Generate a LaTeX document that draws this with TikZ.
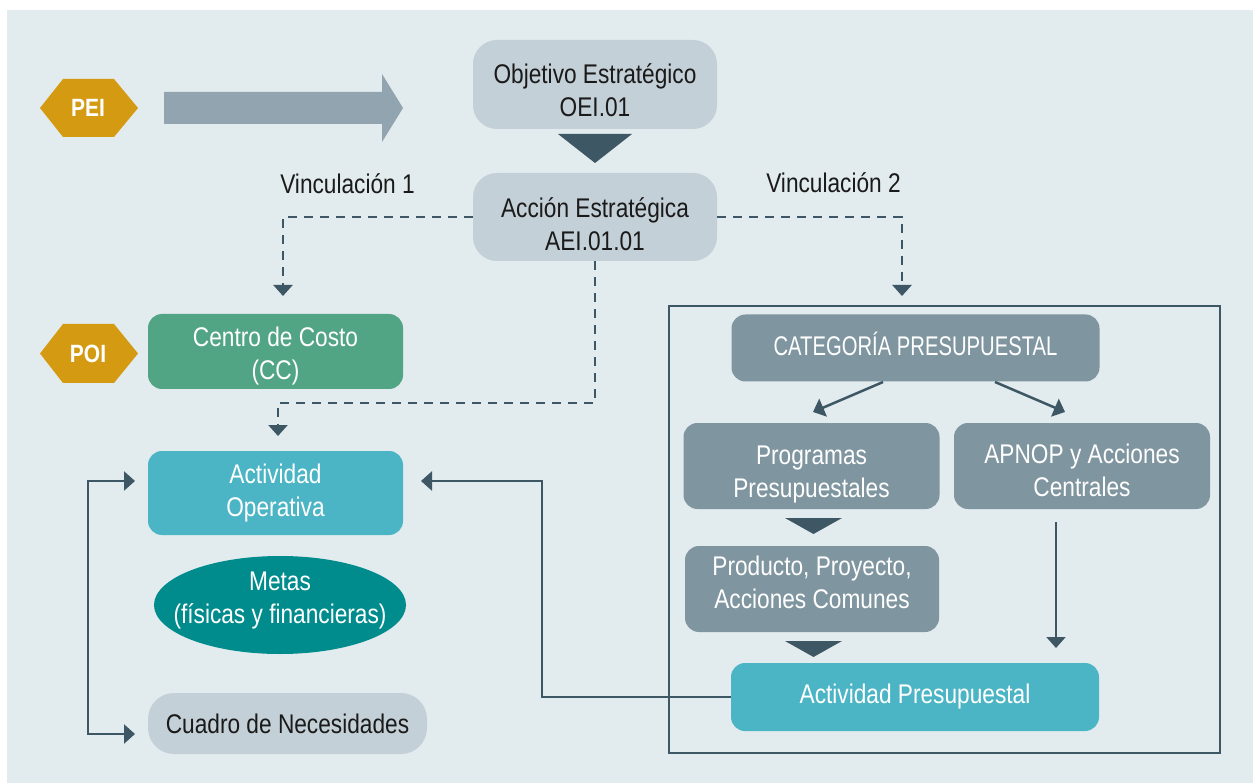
\documentclass[tikz,border=0pt]{standalone}
\usepackage{fontspec}
\setmainfont{Liberation Sans}[FakeStretch=0.84]
\newfontfamily\capsfont{Liberation Sans}[FakeStretch=0.75]
\usetikzlibrary{arrows.meta,shapes.geometric}
\definecolor{panel}{HTML}{E2EBED}
\definecolor{lightbox}{HTML}{C4D0D7}
\definecolor{greybox}{HTML}{7F959F}
\definecolor{tealbox}{HTML}{4BB5C5}
\definecolor{greenbox}{HTML}{52A584}
\definecolor{metasc}{HTML}{008B8C}
\definecolor{gold}{HTML}{D39A12}
\definecolor{dark}{HTML}{3E5764}
\definecolor{bigarrow}{HTML}{91A4AF}
\definecolor{txt}{HTML}{1A1A1A}
% shift the text of a box down by #1 without changing the box size
\newcommand{\shtext}[2]{\raisebox{-#1}[\height][\depth]{\begin{tabular}{@{}c@{}}#2\end{tabular}}}
\begin{document}
\begin{tikzpicture}[x=1pt,y=-1pt,
  every node/.style={font=\fontsize{27}{33}\selectfont, align=center, inner sep=0pt},
  lbox/.style={rectangle, fill=lightbox, text=txt, rounded corners=24pt},
  gbox/.style={rectangle, fill=greybox, text=white, rounded corners=14pt},
  tbox/.style={rectangle, fill=tealbox, text=white, rounded corners=14pt},
  cbox/.style={rectangle, fill=greenbox, text=white, rounded corners=14pt},
  hexlabel/.style={text=white, font=\fontsize{25}{30}\selectfont\bfseries},
  conn/.style={draw=dark, line width=2.5pt},
  dconn/.style={conn, dash pattern=on 9pt off 7pt},
  arr/.style={-{Triangle[width=19pt,length=11pt]}},
  tri/.style={fill=dark}
]
\useasboundingbox (0,0) rectangle (1253,783);
\fill[white] (0,0) rectangle (1253,783);
\fill[panel] (7,10) rectangle (1253,783);

% PEI hexagon and big arrow
\fill[gold] (40,108) -- (63,79) -- (114,79) -- (138,108) -- (114,137) -- (63,137) -- cycle;
\node[hexlabel] (pei) at (88,108) {PEI};
\fill[bigarrow] (164,92) -- (382,92) -- (382,74) -- (403,108) -- (382,142) -- (382,124) -- (164,124) -- cycle;

% POI hexagon
\fill[gold] (40,353.5) -- (63,324) -- (114,324) -- (138,353.5) -- (114,383) -- (63,383) -- cycle;
\node[hexlabel] (poi) at (88,353.5) {POI};

% top boxes
\node[lbox, minimum width=244pt, minimum height=89pt] (oei) at (595,84.5)
  {\shtext{9pt}{Objetivo Estratégico\\OEI.01}};
\fill[tri] (558,134) -- (632,134) -- (595,163) -- cycle;
\node[lbox, minimum width=244pt, minimum height=88pt] (aei) at (595,217)
  {\shtext{10pt}{Acción Estratégica\\AEI.01.01}};

\node[anchor=base, text=txt] (vin1) at (347.5,194) {Vinculación 1};
\node[anchor=base, text=txt] (vin2) at (833.5,193) {Vinculación 2};

% left column
\node[cbox, minimum width=255pt, minimum height=75pt] (cc) at (275.5,351.5) {\shtext{5pt}{Centro de Costo\\(CC)}};
\node[tbox, minimum width=255pt, minimum height=84pt] (ao) at (275.5,493) {\shtext{0.5pt}{Actividad\\Operativa}};
\node[ellipse, fill=metasc, minimum width=252pt, minimum height=98pt] (metas) at (280,605) {};
\node[text=white] (metast) at (metas.center) {\shtext{-4.5pt}{Metas\\(físicas y financieras)}};
\node[lbox, rounded corners=26pt, minimum width=279pt, minimum height=61pt] (cn) at (287.5,723.5) {\shtext{3.5pt}{Cuadro de Necesidades}};

% right frame
\node[draw=dark, line width=2.5pt, minimum width=551pt, minimum height=447pt] (frame) at (944.5,529.5) {};
\node[gbox, minimum width=368pt, minimum height=67pt] (cat) at (915.5,348) {\shtext{1pt}{\capsfont CATEGORÍA PRESUPUESTAL}};
\node[gbox, minimum width=256pt, minimum height=86pt] (prog) at (811.5,466) {\shtext{8.5pt}{Programas\\Presupuestales}};
\node[gbox, minimum width=256pt, minimum height=86pt] (apnop) at (1082,466) {\shtext{7pt}{APNOP y Acciones\\Centrales}};
\fill[tri] (785,518) -- (842,518) -- (813.5,534) -- cycle;
\node[gbox, minimum width=254pt, minimum height=86pt] (prod) at (812,589) {\shtext{-3.5pt}{Producto, Proyecto,\\Acciones Comunes}};
\fill[tri] (785,641) -- (842,641) -- (813.5,657) -- cycle;
\node[tbox, minimum width=368pt, minimum height=68pt] (ap) at (915,697) {\shtext{-0.5pt}{Actividad Presupuestal}};

% coordinates for free ends
\coordinate (v1end) at (283,296);
\coordinate (v2end) at (902,296);
\coordinate (v3turn) at (278,403);
\coordinate (v3end) at (278,436);
\coordinate (c1s) at (883,382);
\coordinate (c1e) at (813,412);
\coordinate (c2s) at (995,382);
\coordinate (c2e) at (1065,412);
\coordinate (apns) at (1056,522);
\coordinate (apne) at (1056,648);
\coordinate (r2) at (542,481);
\coordinate (aor) at (421,481);
\coordinate (lb1) at (135,481);
\coordinate (lbc1) at (88,481);
\coordinate (lbc2) at (88,734);
\coordinate (lb2) at (135,734);

% connectors
\draw[dconn, arr] (aei.west) -| (v1end);
\draw[dconn, arr] (aei.east) -| (v2end);
\draw[dconn, arr] (aei.south) |- (v3turn) -- (v3end);
\draw[conn, arr] (c1s) -- (c1e);
\draw[conn, arr] (c2s) -- (c2e);
\draw[conn, line width=2pt, arr] (apns) -- (apne);
\draw[conn, arr] (ap.west) -| (r2) -- (aor);
\draw[conn, {Triangle[width=19pt,length=11pt]}-{Triangle[width=19pt,length=11pt]}] (lb1) -- (lbc1) -- (lbc2) -- (lb2);
\end{tikzpicture}
\end{document}
